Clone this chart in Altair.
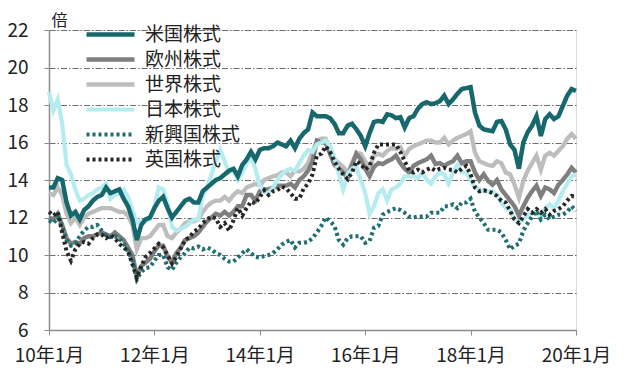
import altair as alt
import pandas as pd

months = [f"{2010 + i // 12}-{i % 12 + 1:02d}" for i in range(121)]

us = [13.6, 13.6, 14.1, 14.0, 12.8, 12.1, 12.3, 11.9, 12.4, 12.6,
      12.9, 13.1, 13.2, 13.6, 13.3, 13.4, 13.5, 13.0, 12.6, 11.9,
      10.8, 11.6, 11.9, 12.0, 12.5, 12.9, 13.1, 12.5, 12.0, 12.3,
      12.6, 12.9, 13.0, 12.8, 12.8, 13.4, 13.6, 13.8, 14.0, 14.1,
      14.3, 14.5, 14.6, 14.2, 14.8, 15.1, 15.5, 15.1, 15.6, 15.7,
      15.7, 15.8, 16.0, 15.9, 15.8, 16.1, 15.7, 16.2, 16.5, 16.7,
      17.6, 17.4, 17.4, 17.4, 17.3, 17.0, 16.5, 16.5, 16.9, 17.0,
      16.7, 16.35, 15.8, 16.5, 17.1, 17.15, 17.1, 17.5, 17.45, 17.3,
      17.35, 16.8, 17.3, 17.4, 17.8, 18.05, 18.15, 18.05, 18.1, 18.2,
      18.5, 18.05, 18.3, 18.6, 18.85, 18.9, 18.95, 17.6, 16.9, 16.7,
      16.65, 16.6, 17.1, 17.15, 16.7, 15.9, 15.6, 14.6, 16.0, 16.55,
      16.9, 17.4, 16.35, 17.25, 17.5, 17.25, 17.4, 17.95, 18.5, 18.85,
      18.75]

europe = [12.0, 11.9, 12.2, 11.6, 10.9, 10.6, 10.7, 10.6, 10.9, 11.0,
          11.0, 11.1, 11.2, 11.1, 11.0, 11.2, 11.0, 10.8, 10.4, 10.0,
          8.9, 9.4, 9.6, 9.8, 10.2, 10.5, 10.5, 9.9, 9.6, 10.1,
          10.4, 10.8, 10.9, 11.0, 11.2, 11.5, 11.8, 12.0, 12.2, 12.1,
          12.3, 12.1, 12.3, 12.6, 12.6, 13.2, 13.2, 12.9, 13.4, 13.5,
          13.5, 13.6, 13.7, 13.7, 13.7, 13.8, 13.6, 14.0, 14.2, 14.5,
          15.0, 16.1, 16.0, 16.0, 15.4, 14.8, 14.6, 14.4, 14.1, 14.8,
          15.4, 15.1, 14.6, 14.2, 14.7, 14.9, 14.85, 15.0, 15.1, 15.3,
          14.9, 14.6, 14.4, 14.75, 14.9, 15.0, 15.1, 15.3, 14.85, 14.9,
          14.75, 14.9, 15.0, 15.3, 14.9, 15.0, 15.0, 14.4, 14.0, 14.3,
          13.95, 13.75, 14.0, 13.5, 13.2, 12.9, 12.6, 12.1, 12.6, 13.05,
          13.4, 13.7, 13.15, 13.6, 13.5, 13.3, 13.75, 14.0, 14.3, 14.65,
          14.4]

world = [13.3, 13.2, 13.6, 13.2, 12.2, 11.7, 12.0, 11.6, 12.0, 12.2,
         12.3, 12.4, 12.5, 12.5, 12.5, 12.4, 12.3, 12.3, 12.1, 11.6,
         10.3, 10.9, 10.9, 11.0, 11.3, 11.6, 11.6, 11.0, 10.9, 11.2,
         11.4, 11.7, 11.8, 11.8, 11.9, 12.3, 12.6, 12.8, 12.9, 12.9,
         13.1, 12.9, 13.2, 13.4, 13.3, 13.6, 13.7, 13.8, 13.7, 14.0,
         14.1, 14.2, 14.25, 14.4, 14.4, 14.2, 14.5, 14.45, 14.6, 14.9,
         15.5, 16.1, 16.2, 16.2, 15.6, 15.1, 14.9, 14.7, 14.4, 14.9,
         15.45, 15.4, 15.0, 14.65, 15.3, 15.4, 15.3, 15.55, 15.7, 15.65,
         15.75, 15.3, 15.65, 15.8, 15.9, 16.0, 16.1, 16.1, 16.0, 16.0,
         16.25, 15.9, 16.1, 16.25, 16.35, 16.45, 16.6, 15.45, 15.0, 14.9,
         14.8, 14.75, 15.0, 14.9, 14.4, 14.3, 13.75, 13.05, 13.95, 14.5,
         14.9, 15.3, 14.55, 15.3, 15.45, 15.3, 15.55, 15.8, 16.2, 16.45,
         16.2]

japan = [18.7, 17.7, 18.3, 17.0, 14.8, 14.3, 13.5, 12.9, 13.0, 13.2,
         13.3, 13.5, 13.6, 13.8, 13.0, 13.2, 13.3, 13.5, 13.1, 12.4,
         11.7, 11.8, 11.8, 11.9, 12.6, 13.6, 13.5, 12.7, 11.5, 11.3,
         11.4, 11.5, 11.7, 11.9, 11.9, 13.2, 13.6, 14.3, 15.0, 15.6,
         15.0, 14.4, 14.5, 14.0, 14.4, 14.9, 15.2, 14.6, 13.7, 13.4,
         13.3, 13.6, 14.0, 14.3, 14.5, 14.6, 14.5, 14.9, 15.3, 15.6,
         15.5, 15.9, 16.0, 16.1, 15.8, 15.2, 14.3, 13.5, 14.3, 14.6,
         14.7, 14.0, 13.3, 12.2, 12.6, 13.3, 13.5, 12.9, 13.5, 13.6,
         13.8, 14.2, 14.2, 14.2, 14.1, 14.4, 14.0, 13.8, 14.2, 14.4,
         14.3, 13.8, 14.4, 14.8, 14.4, 14.4, 14.0, 13.6, 13.5, 13.4,
         13.4, 13.4, 13.2, 12.8, 12.5, 12.4, 11.9, 11.7, 11.9, 12.1,
         12.3, 12.3, 12.0, 12.5, 12.7, 12.5, 12.9, 13.4, 13.8, 14.2,
         14.3]

emerging = [11.85, 11.7, 12.0, 11.5, 10.8, 10.5, 10.6, 11.0, 11.3, 11.5,
            11.5, 11.6, 11.3, 11.0, 10.95, 11.0, 10.9, 10.6, 10.2, 9.7,
            8.7, 9.1, 9.3, 9.35, 9.7, 10.0, 10.0, 9.35, 9.2, 9.6,
            9.9, 10.1, 10.4, 10.35, 10.45, 10.3, 10.4, 10.3, 10.1, 10.0,
            9.8, 9.65, 9.65, 9.85, 10.1, 10.3, 10.1, 9.9, 9.85, 9.95,
            10.0, 10.1, 10.3, 10.55, 10.7, 10.8, 10.4, 10.65, 10.65, 10.7,
            10.9, 11.2, 11.55, 12.0, 11.8, 11.55, 10.8, 10.55, 10.9, 11.0,
            11.0, 11.0, 10.65, 10.75, 11.45, 11.55, 12.15, 12.3, 12.4, 12.5,
            12.4, 12.25, 12.05, 12.0, 12.05, 12.05, 12.05, 12.25, 12.25, 12.25,
            12.6, 12.6, 12.7, 12.5, 12.8, 12.8, 13.0, 12.3, 12.0, 11.7,
            11.35, 11.35, 11.35, 11.2, 10.8, 10.3, 10.5, 10.6, 11.3, 11.7,
            12.05, 12.35, 11.9, 12.15, 11.9, 12.05, 12.15, 12.15, 12.3, 12.6,
            12.35]

uk = [12.3, 12.1, 12.3, 11.2, 10.2, 9.7, 10.3, 10.6, 10.7, 10.6,
      10.9, 11.1, 11.1, 10.9, 11.05, 10.9, 10.6, 10.4, 10.2, 9.5,
      8.8, 9.4, 9.9, 10.1, 10.35, 10.6, 10.4, 10.0, 9.55, 9.9,
      10.35, 10.8, 10.95, 11.25, 11.4, 11.7, 11.9, 12.05, 11.95, 11.5,
      11.7, 11.3, 11.85, 12.5, 12.1, 12.5, 12.85, 12.75, 13.1, 13.45,
      13.2, 13.4, 13.45, 13.65, 13.55, 13.3, 13.0, 13.0, 13.55, 13.8,
      14.3, 15.3, 15.4, 15.8, 15.5, 15.0, 14.6, 14.3, 14.05, 14.4,
      15.0, 14.85, 14.55, 14.75, 15.45, 15.9, 15.9, 15.9, 15.9, 15.9,
      15.5, 15.0, 14.5, 14.4, 14.55, 14.4, 14.55, 14.65, 14.5, 14.6,
      14.65, 14.55, 14.55, 14.4, 14.6, 14.75, 14.3, 13.6, 13.4, 13.45,
      13.4, 13.3, 13.15, 12.9, 12.8, 12.35, 11.9, 11.7, 12.05, 12.45,
      12.25, 12.45, 12.25, 12.45, 12.15, 12.35, 12.45, 12.6, 12.9, 13.15,
      13.1]

series_names = ["米国株式", "欧州株式", "世界株式", "日本株式", "新興国株式", "英国株式"]
series_values = [us, europe, world, japan, emerging, uk]
colors = ["#17686d", "#7f7f7f", "#bdbdbd", "#b4ecf0", "#1f6e72", "#262626"]
dashes = [[1, 0], [1, 0], [1, 0], [1, 0], [3, 3], [3, 3]]
widths = [4.5, 4, 4, 3.5, 3.3, 3.3]
draw_order = ["世界株式", "欧州株式", "日本株式", "米国株式", "新興国株式", "英国株式"]

rows = []
for name in draw_order:
    vals = series_values[series_names.index(name)]
    for i, (m, v) in enumerate(zip(months, vals)):
        rows.append({"idx": i, "month": m, "series": name, "value": v})
df = pd.DataFrame(rows)

FONT = "Noto Sans CJK JP"

legend = alt.Legend(
    title=None, orient="none", legendX=52, legendY=-5,
    labelFontSize=19, labelFont=FONT, labelColor="#222222", labelLimit=300,
    symbolType="M-4.8,0L4.8,0", symbolSize=100, symbolStrokeWidth=4.5,
    labelOffset=25, rowPadding=5, padding=0,
)

chart = alt.Chart(df).mark_line(interpolate="linear").encode(
    x=alt.X("idx:Q", scale=alt.Scale(domain=[0, 120], nice=False, zero=False),
            axis=alt.Axis(values=[0, 24, 48, 72, 96, 120],
                          labelExpr="(10 + datum.value / 12) + '年1月'",
                          grid=False, tickSize=5, tickColor="#8c8c8c",
                          domainColor="#8c8c8c", domainWidth=1.5,
                          labelFontSize=19, labelFont=FONT, labelColor="#222222",
                          labelPadding=11, labelFlush=False, title=None)),
    y=alt.Y("value:Q", scale=alt.Scale(domain=[6, 22], nice=False, zero=False),
            axis=alt.Axis(values=[6, 8, 10, 12, 14, 16, 18, 20, 22],
                          grid=True, gridDash=[6, 2, 1.5, 2], gridColor="#6f6f6f",
                          gridWidth=1, tickSize=5, tickColor="#8c8c8c",
                          domainColor="#8c8c8c", domainWidth=1.5,
                          labelFontSize=19, labelFont=FONT, labelColor="#222222",
                          labelPadding=16,
                          title="倍", titleAngle=0, titleX=10, titleY=-10,
                          titleAlign="center", titleBaseline="middle",
                          titleFontSize=16, titleFont=FONT, titleFontWeight="normal",
                          titleColor="#222222")),
    color=alt.Color("series:N", scale=alt.Scale(domain=series_names, range=colors), legend=legend),
    strokeDash=alt.StrokeDash("series:N", scale=alt.Scale(domain=series_names, range=dashes), legend=legend),
    strokeWidth=alt.StrokeWidth("series:N", scale=alt.Scale(domain=series_names, range=widths), legend=legend),
    detail="series:N",
).properties(
    width=527, height=300,
    padding={"left": 41, "top": 22, "right": 50, "bottom": 36},
    autosize=alt.AutoSizeParams(type="none"),
).configure_view(stroke=None).configure(background="white")

chart.save("out.html", embed_options={"renderer": "svg", "actions": False})
